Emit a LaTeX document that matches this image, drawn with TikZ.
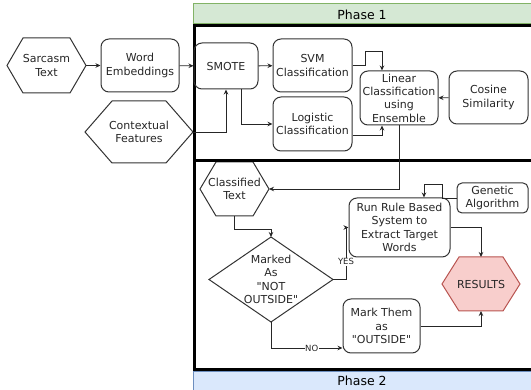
\documentclass[tikz,border=0pt]{standalone}
\usepackage{fontspec}
\setmainfont{DejaVu Sans}[Ligatures=TeXOff]
\usetikzlibrary{arrows.meta,calc,positioning,backgrounds}
\definecolor{hdgreen}{HTML}{D5E8D4}
\definecolor{hdgreenline}{HTML}{82B366}
\definecolor{hdblue}{HTML}{DAE8FC}
\definecolor{hdblueline}{HTML}{6C8EBF}
\definecolor{resfill}{HTML}{F8CECC}
\definecolor{resline}{HTML}{B85450}
\newcommand{\mainfnt}{\fontsize{11}{13.3}\selectfont}
\newcommand{\lblfnt}{\fontsize{8.5}{10}\selectfont}
\tikzset{box/.style={draw=black!80,line width=1pt,rounded corners=8pt,align=center,inner sep=1pt,font=\mainfnt,text=black!85},
  hexa/.style={align=center,inner sep=1pt,outer sep=0pt,font=\mainfnt,text=black!85},
  hexline/.style={draw=black!80,line width=1pt},
  arr/.style={-{Stealth[length=5pt,width=4.5pt]},line width=0.9pt,black!85},
  lbl/.style={font=\lblfnt,fill=white,inner sep=0.5pt,text=black!85},
  frame/.style={line width=3pt,draw=black}}
% outline of a hexagon round a (plain) node
\newcommand{\hexout}[3][]{\begin{pgfonlayer}{background}
  \draw[hexline,#1] ([xshift=#3]#2.north west) -- ([xshift=-#3]#2.north east) -- (#2.east)
    -- ([xshift=-#3]#2.south east) -- ([xshift=#3]#2.south west) -- (#2.west) -- cycle;
  \end{pgfonlayer}}
\begin{document}
\begin{tikzpicture}[x=1pt,y=-1pt,>=Stealth]
\clip (0,0) rectangle (531,390);
% phases
\draw[fill=hdgreen,draw=hdgreenline,line width=1pt] (193,4) rectangle (536,24);
\node[font=\fontsize{12.5}{14}\selectfont] (ph1) at (362,14.5) {Phase 1};
\draw[frame] (194.5,25.5) rectangle (536,160.5);
\draw[frame] (194.5,160.5) rectangle (536,370);
\draw[fill=hdblue,draw=hdblueline,line width=1pt] (193,372) rectangle (536,394);
\node[font=\fontsize{12.5}{14}\selectfont] (ph2) at (362,381) {Phase 2};

% phase 1
\node[hexa,minimum width=79pt,minimum height=55pt] (sarc) at (46.5,65.5) {Sarcasm\\Text};
\hexout{sarc}{16pt}
\node[box,minimum width=78pt,minimum height=53pt] (embed) at (140,65.5) {Word\\Embeddings};
\node[box,minimum width=64pt,minimum height=46pt] (smote) at (226,66) {SMOTE};
\node[hexa,minimum width=108pt,minimum height=62pt] (context) at (139,132) {Contextual\\Features};
\hexout{context}{27pt}
\node[box,minimum width=79pt,minimum height=53pt] (svm) at (312.5,65.5) {SVM\\Classification};
\node[box,minimum width=79pt,minimum height=54pt] (logit) at (312.5,124) {Logistic\\Classification};
\node[box,minimum width=78pt,minimum height=54pt] (ensem) at (399,98) {Linear\\Classification\\using\\Ensemble};
\node[box,minimum width=79pt,minimum height=53pt] (cosine) at (488.5,97.5) {Cosine\\Similarity};

\draw[arr] (sarc) -- (embed);
\draw[arr] (embed) -- (smote);
\draw[arr] (context.east) -| (smote.south);
\draw[arr] (smote) -- (svm);
\draw[arr] ([xshift=15pt]smote.south) |- (logit.west);
\draw[arr] (svm.east) -- ++(13,0) -- ++(0,-14.5) -| ([xshift=-17pt]ensem.north);
\draw[arr] ([yshift=-11pt]logit.east) -| ([xshift=-17pt]ensem.south);
\draw[arr] (cosine) -- (ensem);

% phase 2
\node[hexa,minimum width=69pt,minimum height=54pt] (classi) at (234.5,189) {Classified\\Text};
\hexout{classi}{16pt}
\node[box,rounded corners=5pt,minimum width=71pt,minimum height=30pt] (genet) at (492.5,198) {Genetic\\Algorithm};
\node[box,minimum width=101pt,minimum height=59pt] (rules) at (399.5,227.5) {Run Rule Based\\System to\\Extract Target\\Words};
\node[hexa,minimum width=78pt,minimum height=54pt] (result) at (481,284) {RESULTS};
\hexout[fill=resfill,draw=resline]{result}{17pt}
\node[hexa,minimum width=124pt,minimum height=85pt] (marked) at (271,279.5) {Marked\\As\\"NOT\\OUTSIDE"};
\draw[hexline] (marked.north) -- (marked.east) -- (marked.south) -- (marked.west) -- cycle;
\node[box,minimum width=77pt,minimum height=54pt] (markout) at (381.5,326) {Mark Them\\as\\"OUTSIDE"};

\draw[arr] (ensem.south) |- (classi.east);
\draw[arr] (genet.west) -- ++(-14,0) -- ++(0,-14) -| ([xshift=24.5pt]rules.north);
\draw[arr] (classi.south) -- ++(0,13) -| (marked.north);
\draw[arr] (marked.east) -- ++(13,0) |- (rules.west) node[lbl,pos=0.17] {YES};
\draw[arr] (marked.south) |- ([yshift=-22pt]markout.west) node[lbl,pos=0.785] {NO};
\draw[arr] (rules.east) -| (result.north);
\draw[arr] (markout.east) -| (result.south);
\end{tikzpicture}
\end{document}
